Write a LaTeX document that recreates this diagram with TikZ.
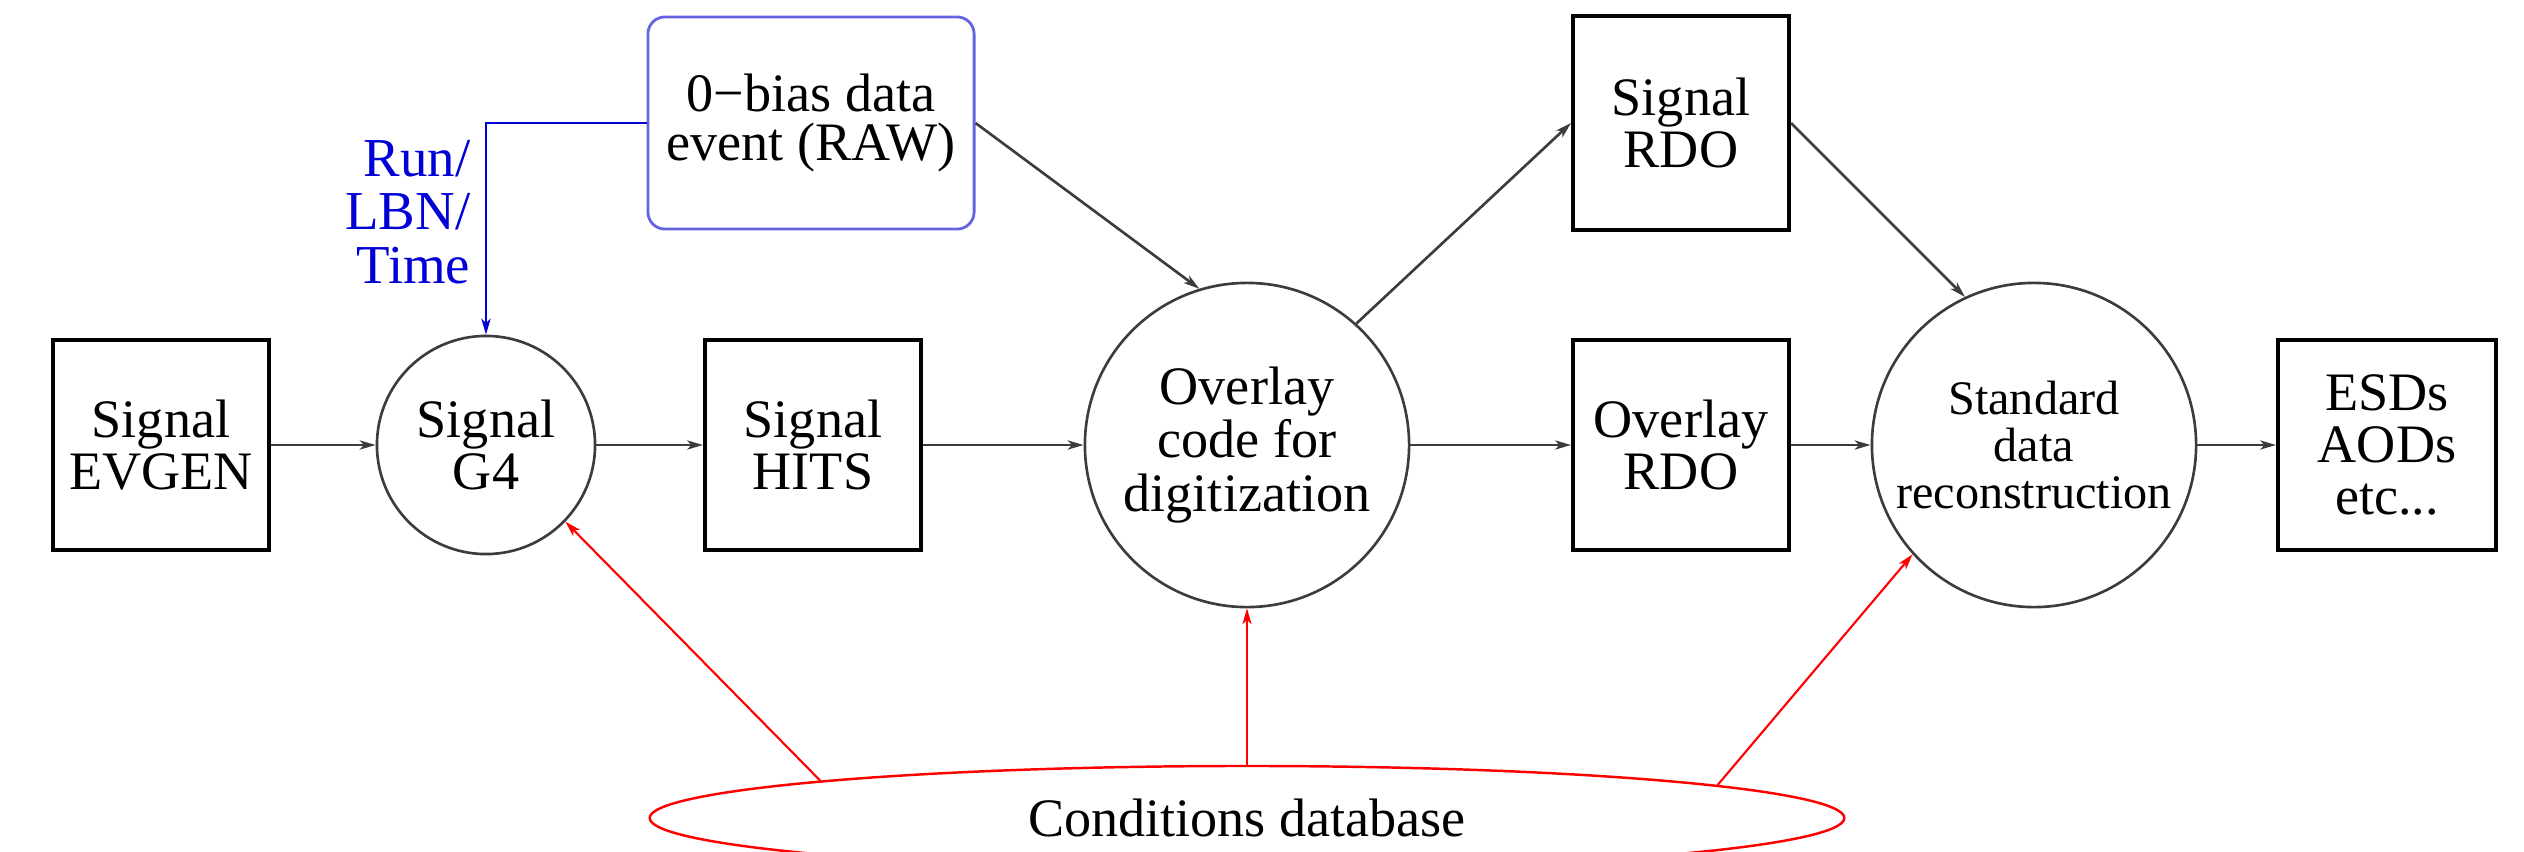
\documentclass[tikz,border=0pt]{standalone}
\usepackage{fontspec}
\setmainfont{Liberation Serif}
\usetikzlibrary{shapes.geometric,arrows.meta}
\definecolor{arrgray}{RGB}{60,60,60}
\definecolor{rawblue}{RGB}{100,100,225}
\definecolor{lblblue}{RGB}{0,0,215}
\begin{document}
\begin{tikzpicture}[x=0.01cm,y=-0.01cm,
  boxnode/.style={draw=black,line width=1.1pt,rectangle,minimum width=2.16cm,minimum height=2.1cm,inner sep=0pt,align=center,font=\fontsize{15.4}{14.8}\selectfont},
  circnode/.style={draw=arrgray,line width=0.75pt,circle,inner sep=0pt,align=center},
  flow/.style={draw=arrgray,line width=0.75pt,-{Stealth[length=4.5pt,width=2.6pt,inset=1.2pt]}},
  redflow/.style={draw=red,line width=0.6pt,-{Stealth[length=4.5pt,width=2.6pt,inset=1.2pt]}},
  blueflow/.style={draw=lblblue,line width=0.7pt,-{Stealth[length=4.5pt,width=2.6pt,inset=1.2pt]}}]
\useasboundingbox (0,0) rectangle (2524,851);
\node[boxnode] (evgen) at (161,445) {Signal\\EVGEN};
\node[circnode,minimum size=2.18cm,font=\fontsize{15.4}{14.8}\selectfont] (g4) at (486,445) {Signal\\G4};
\node[boxnode] (hits) at (813,445) {Signal\\HITS};
\node[circnode,minimum size=3.24cm,font=\fontsize{15.4}{15.2}\selectfont] (overlay) at (1247,445) {Overlay\\code for\\digitization};
\node[boxnode,minimum height=2.14cm] (sigrdo) at (1681,123) {Signal\\RDO};
\node[boxnode] (ovrdo) at (1681,445) {Overlay\\RDO};
\node[circnode,minimum size=3.24cm,font=\fontsize{13.7}{13.4}\selectfont] (std) at (2034,445) {Standard\\data\\reconstruction};
\node[boxnode,minimum width=2.18cm] (esd) at (2387,445) {ESDs\\AODs\\etc...};
\node[draw=rawblue,line width=0.8pt,rectangle,rounded corners=0.17cm,minimum width=3.26cm,minimum height=2.12cm,inner sep=0pt,align=center,font=\fontsize{15.4}{14.2}\selectfont] (raw) at (811,123) {0−bias data\\event (RAW)};
\node[draw=red,line width=0.7pt,ellipse,minimum width=11.94cm,minimum height=1.04cm,inner sep=0pt,font=\fontsize{15.4}{15}\selectfont] (cond) at (1247,818) {Conditions database};
\node[anchor=east,align=right,text=lblblue,inner sep=0pt,font=\fontsize{15.6}{15.2}\selectfont] (runlbl) at (471,212) {Run/\\LBN/\\Time};
\draw[flow] (evgen.east) -- (g4.west);
\draw[flow] (g4.east) -- (hits.west);
\draw[flow] (hits.east) -- (overlay.west);
\draw[flow] (overlay.48) -- (sigrdo.west);
\draw[flow] (raw.east) -- (overlay.107);
\draw[flow] (sigrdo.east) -- (std.115);
\draw[flow] (overlay.east) -- (ovrdo.west);
\draw[flow] (ovrdo.east) -- (std.west);
\draw[flow] (std.east) -- (esd.west);
\draw[blueflow] (raw.west) -| (g4.north);
\draw[redflow] (cond.175.3) -- (g4.-44);
\draw[redflow] (cond.north) -- (overlay.south);
\draw[redflow] (cond.4.7) -- (std.222);
\end{tikzpicture}
\end{document}
